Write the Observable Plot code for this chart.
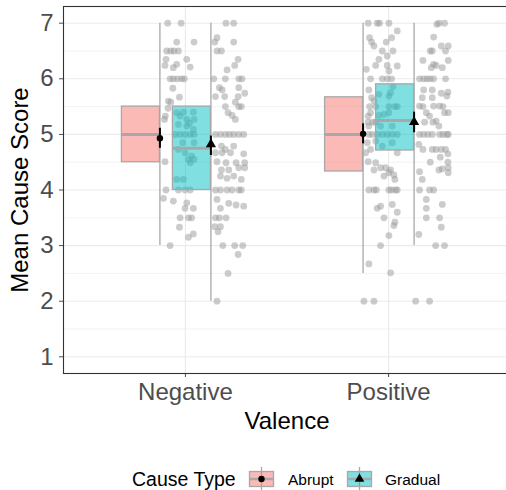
<!DOCTYPE html>
<html><head><meta charset="utf-8">
<script src="https://cdn.jsdelivr.net/npm/d3@7"></script>
<script src="https://cdn.jsdelivr.net/npm/@observablehq/plot@0.6"></script>
<style>
html,body{margin:0;padding:0;background:#fff;overflow:hidden;}
#chart,#legend{width:506px;display:block;}
svg{display:block;}
</style></head><body><div id="chart"></div><div id="legend"></div>
<script>
// ---------- data ----------
const valence = ["Negative", "Positive"];
const causeTypes = ["Abrupt", "Gradual"];
const typeColors = ["#F8766D", "#00BFC4"];
const yTicks = [1, 2, 3, 4, 5, 6, 7];
const yMinor = [1.5, 2.5, 3.5, 4.5, 5.5, 6.5];

// boxplot summaries (one per valence x cause type)
const groupValence = ["Negative", "Negative", "Positive", "Positive"];
const groupType = ["Abrupt", "Gradual", "Abrupt", "Gradual"];
const boxQ1 = [4.5, 4.0, 4.333, 4.71];
const boxMedian = [5.0, 4.75, 5.0, 5.25];
const boxQ3 = [5.5, 5.5, 5.667, 5.9];
const whiskerLo = [3.0, 2.0, 2.5, 3.0];
const whiskerHi = [7.0, 7.0, 7.0, 7.0];
const meanScore = [4.93, 4.82, 5.01, 5.22];
const meanLo = [4.75, 4.62, 4.83, 5.03];
const meanHi = [5.11, 4.97, 5.19, 5.40];

// individual scores: [score, jitter (-1..1)]
const negAbrupt = [[7.0,-0.57],[7.0,0.22],[6.66,-0.04],[6.66,0.98],[6.5,-0.63],[6.5,-0.39],[6.5,-0.2],[6.5,0.06],[6.35,-0.67],[6.35,0.55],[6.24,-0.73],[6.26,-0.04],[6.2,-0.24],[6.21,0.75],[6.0,-0.43],[6.0,-0.24],[6.0,0],[6.0,0.25],[6.0,0.41],[5.83,-0.27],[5.67,0.12],[5.6,-0.53],[5.58,-0.39],[5.47,-0.55],[5.33,-0.71],[5.27,-0.76],[5.39,-0.04],[5.4,0.35],[5.4,0.94],[5.33,0.16],[5.27,0.55],[5.27,0.98],[5.2,0.71],[5.18,0.06],[5.15,0.55],[5.0,-0.14],[5.0,0.16],[5.0,0.45],[5.0,0.75],[5.0,0.98],[5.09,0.94],[4.85,0.31],[4.85,0.98],[4.73,0.06],[4.67,0.45],[4.61,0.84],[4.55,0.65],[4.55,0.98],[4.49,0.75],[4.19,-0.04],[4.19,0.35],[4.0,0.06],[4.0,0.45],[4.0,0.75],[4.51,-0.73],[4.0,-0.67],[3.85,-0.82],[3.8,-0.24],[3.77,0.55],[3.67,0.45],[3.67,0.94],[3.5,0.84],[3.5,0.65],[3.5,0.16],[3.21,0.94],[3.15,0.65],[3.33,0.12],[3.0,-0.43]];
const negGradual = [[7.0,-0.14],[7.0,0.31],[6.74,-0.67],[6.66,-0.8],[6.66,0.31],[6.5,-0.67],[6.5,-0.41],[6.35,0.57],[6.24,0.37],[6.16,-0.08],[6.0,-0.86],[6.0,-0.18],[6.0,0.61],[6.0,0.8],[5.84,-0.53],[5.8,-0.37],[5.84,0.61],[5.74,0.96],[5.68,-0.76],[5.68,-0.22],[5.68,0.57],[5.58,0.41],[5.5,0.61],[5.5,0.76],[5.5,-0.18],[5.39,-0.02],[5.34,0.22],[5.27,0.41],[5.0,-0.76],[5.0,-0.47],[5.0,-0.18],[5.0,0.06],[5.0,0.31],[5.0,0.61],[5.0,0.9],[4.79,-0.41],[4.73,-0.18],[4.79,0.31],[4.67,-0.76],[4.67,-0.37],[4.67,0.12],[4.65,0.9],[4.51,-0.67],[4.49,-0.14],[4.49,0.45],[4.49,0.96],[4.36,-0.41],[4.36,0.02],[4.4,0.61],[4.4,0.96],[4.25,-0.47],[4.21,-0.08],[4.25,0.31],[4.19,0.76],[4.0,-0.76],[4.0,-0.47],[4.0,-0.08],[4.0,0.22],[4.0,0.61],[4.0,0.76],[3.83,-0.67],[3.67,-0.47],[3.76,0.02],[3.73,0.45],[3.71,0.9],[3.5,-0.76],[3.5,-0.53],[3.5,-0.14],[3.34,-0.8],[3.34,-0.47],[3.25,-0.61],[3.0,-0.33],[3.0,0.37],[3.0,0.84],[2.84,0.57],[2.5,-0.02],[2.0,-0.67]];
const posAbrupt = [[7.0,-0.73],[7.0,-0.2],[7.0,-0.06],[7.0,0.49],[6.86,0.98],[6.74,-0.65],[6.66,-0.53],[6.66,0.33],[6.59,-0.39],[6.74,0.65],[6.5,0.1],[6.5,0.73],[6.35,-0.1],[6.24,-0.29],[6.41,0.39],[6.24,0.39],[6.17,-0.84],[6.14,0.49],[6.23,0.98],[6.0,-0.59],[6.0,0.1],[6.0,0.39],[6.0,0.65],[5.8,-0.69],[5.86,0.73],[5.72,-0.1],[5.69,0.49],[5.75,0.59],[5.66,-0.53],[5.6,-0.39],[5.5,-0.65],[5.5,-0.29],[5.5,0.49],[5.5,0.84],[5.5,0.98],[5.39,-0.59],[5.33,-0.73],[5.34,-0.1],[5.36,0.2],[5.39,0.49],[5.22,-0.73],[5.22,-0.45],[5.22,-0.29],[5.15,-0.69],[5.15,0],[5.15,0.69],[5.0,-0.69],[5.0,-0.49],[5.0,-0.2],[5.0,0.1],[5.0,0.39],[5.0,0.69],[5.0,0.98],[4.85,-0.78],[4.88,-0.29],[4.79,0.1],[4.85,0.69],[4.67,0.98],[4.67,-0.88],[4.73,-0.59],[4.51,-0.73],[4.49,-0.29],[4.4,0],[4.4,0.29],[4.36,0.59],[4.27,0.78],[4.31,0.49],[4.36,-0.39],[4.25,0.2],[4.19,0.84],[4.0,-0.69],[4.0,-0.39],[4.0,-0.25],[4.0,0.49],[4.0,0.65],[4.0,0.88],[4.0,0.98],[3.67,-0.2],[3.71,0],[3.74,0.69],[3.6,0.98],[3.5,0.2],[3.42,0.84],[3.36,0.78],[3.18,0.49],[3.0,0],[2.67,-0.69],[2.51,0.59],[2.0,-0.98],[2.0,-0.39]];
const posGradual = [[7.0,0.43],[7.0,0.76],[6.98,0.31],[6.75,0.12],[6.59,0.57],[6.59,0.98],[6.5,0.82],[6.5,-0.08],[6.5,0.04],[6.33,-0.51],[6.33,0.98],[6.26,0.12],[6.2,-0.02],[6.2,0.63],[6.24,0.27],[6.0,-0.71],[6.0,-0.47],[6.0,-0.27],[6.0,-0.08],[6.0,0.12],[6.0,0.82],[5.8,-0.47],[5.8,0.04],[5.74,0.57],[5.76,0.96],[5.69,0.9],[5.66,-0.55],[5.66,0.04],[5.51,-0.71],[5.5,-0.51],[5.51,0.12],[5.51,0.47],[5.5,0.67],[5.39,0.98],[5.39,0.76],[5.39,-0.31],[5.33,-0.12],[5.24,0.27],[5.22,-0.41],[5.22,0.08],[5.15,0.43],[5.0,-0.71],[5.0,-0.47],[5.0,-0.22],[5.0,0.04],[5.0,0.47],[5.0,0.67],[5.0,0.9],[5.0,0.98],[4.82,-0.75],[4.73,-0.51],[4.73,0.04],[4.73,0.27],[4.73,0.57],[4.73,0.82],[4.59,0.51],[4.65,0.96],[4.5,-0.08],[4.5,0.96],[4.36,0.43],[4.38,0.63],[4.4,0.98],[4.31,0.98],[4.33,-0.71],[4.19,-0.55],[4.0,-0.71],[4.0,-0.12],[4.0,0.12],[3.83,-0.31],[3.74,0.63],[3.67,-0.31],[3.5,-0.31],[3.5,0.47],[3.33,0.57],[3.2,-0.75],[3.0,0.24],[3.0,0.76],[2.0,-0.94],[2.0,-0.12]];

// ---------- layout ----------
const W = 506, H = 445, mL = 63, mR = -4, mT = 6, mB = 72;
const PXU = (W - mL - mR) / 2.2;           // pixels per category unit
const DODGE = 25.5, BOXW = 38, JC = 17.5, JH = 17;
const dodgeOf = t => t === "Abrupt" ? -DODGE : DODGE;
const xAt = (v, px) => valence.indexOf(v) + 1 + px / PXU;

const groups = groupValence.map((v, i) => ({
  valence: v, type: groupType[i], q1: boxQ1[i], median: boxMedian[i], q3: boxQ3[i],
  lo: whiskerLo[i], hi: whiskerHi[i], mean: meanScore[i], mLo: meanLo[i], mHi: meanHi[i]
}));
const pointSets = [["Negative","Abrupt",negAbrupt],["Negative","Gradual",negGradual],
                   ["Positive","Abrupt",posAbrupt],["Positive","Gradual",posGradual]];
const points = pointSets.flatMap(([v, t, arr]) => arr.map(([y, j]) => ({valence: v, type: t, y, j})));

const cx = d => xAt(d.valence, dodgeOf(d.type));
const GRAY = "#a8a8a8";

const plot = Plot.plot({
  width: W, height: H, marginLeft: mL, marginRight: mR, marginTop: mT, marginBottom: mB,
  style: {fontFamily: "'Liberation Sans', Arial, sans-serif", fontSize: "24px", color: "#4d4d4d", background: "#fff"},
  x: {type: "linear", domain: [0.4, 2.6], ticks: [1, 2], tickFormat: d => valence[d - 1], tickSize: 4, tickPadding: 5, label: null},
  y: {domain: [0.7, 7.3], ticks: yTicks, tickFormat: d => String(d), tickSize: 4, tickPadding: 6, label: null},
  color: {domain: causeTypes, range: typeColors},
  marks: [
    Plot.ruleY(yMinor, {stroke: "#ebebeb", strokeWidth: 0.6}),
    Plot.ruleY(yTicks, {stroke: "#ebebeb", strokeWidth: 1.1}),
    Plot.ruleX([1, 2], {stroke: "#ebebeb", strokeWidth: 1.1}),
    Plot.dot(points, {x: d => xAt(d.valence, dodgeOf(d.type) + JC + JH * d.j), y: "y", r: 3.4, fill: "#999999", fillOpacity: 0.5}),
    Plot.ruleX(groups, {x: cx, y1: "lo", y2: "hi", stroke: GRAY, strokeWidth: 1.3}),
    Plot.rect(groups, {x1: d => xAt(d.valence, dodgeOf(d.type) - BOXW), x2: cx, y1: "q1", y2: "q3",
      fill: "type", fillOpacity: 0.5, stroke: GRAY, strokeWidth: 1.3}),
    Plot.ruleY(groups, {x1: d => xAt(d.valence, dodgeOf(d.type) - BOXW), x2: cx, y: "median", stroke: GRAY, strokeWidth: 3}),
    Plot.ruleX(groups, {x: cx, y1: "mLo", y2: "mHi", stroke: "#000", strokeWidth: 2}),
    Plot.dot(groups.filter(d => d.type === "Abrupt"), {x: cx, y: "mean", r: 3.2, fill: "#000", symbol: "circle"}),
    Plot.dot(groups.filter(d => d.type === "Gradual"), {x: cx, y: "mean", r: 3.8, fill: "#000", symbol: "triangle"}),
    Plot.frame({stroke: "#333333", strokeWidth: 1.1}),
    Plot.text(["Valence"], {frameAnchor: "bottom", dy: 55, fontSize: 24, fill: "#000", textAnchor: "middle"}),
    Plot.text(["Mean Cause Score"], {frameAnchor: "left", dx: -43, rotate: -90, fontSize: 24, fill: "#000", textAnchor: "middle"})
  ]
});
document.getElementById("chart").appendChild(plot);

// ---------- legend ----------
const LH = 45;
const lg = d3.select("#legend").append("svg").attr("width", W).attr("height", LH)
  .style("font-family", "'Liberation Sans', Arial, sans-serif");
const cy = 34;
lg.append("text").attr("x", 132).attr("y", cy + 7).attr("font-size", 19.5).attr("fill", "#000").text("Cause Type");
const keyX = [249.5, 347.5], labX = [288, 385];
causeTypes.forEach((t, i) => {
  const g = lg.append("g");
  const kx = keyX[i], kc = kx + 12;
  g.append("line").attr("x1", kc).attr("x2", kc).attr("y1", cy - 12).attr("y2", cy + 11).attr("stroke", GRAY).attr("stroke-width", 1.3);
  g.append("rect").attr("x", kx).attr("y", cy - 7.5).attr("width", 24).attr("height", 15)
    .attr("fill", typeColors[i]).attr("fill-opacity", 0.5).attr("stroke", GRAY).attr("stroke-width", 1.3);
  g.append("line").attr("x1", kx).attr("x2", kx + 24).attr("y1", cy).attr("y2", cy).attr("stroke", GRAY).attr("stroke-width", 2.5);
  g.append("path").attr("transform", `translate(${kc},${cy})`)
    .attr("d", d3.symbol(i === 0 ? d3.symbolCircle : d3.symbolTriangle, i === 0 ? Math.PI * 3.2 * 3.2 : Math.PI * 3.6 * 3.6)())
    .attr("fill", "#000");
  lg.append("text").attr("x", labX[i]).attr("y", cy + 5.5).attr("font-size", 15.5).attr("fill", "#000").text(t);
});
</script></body></html>
